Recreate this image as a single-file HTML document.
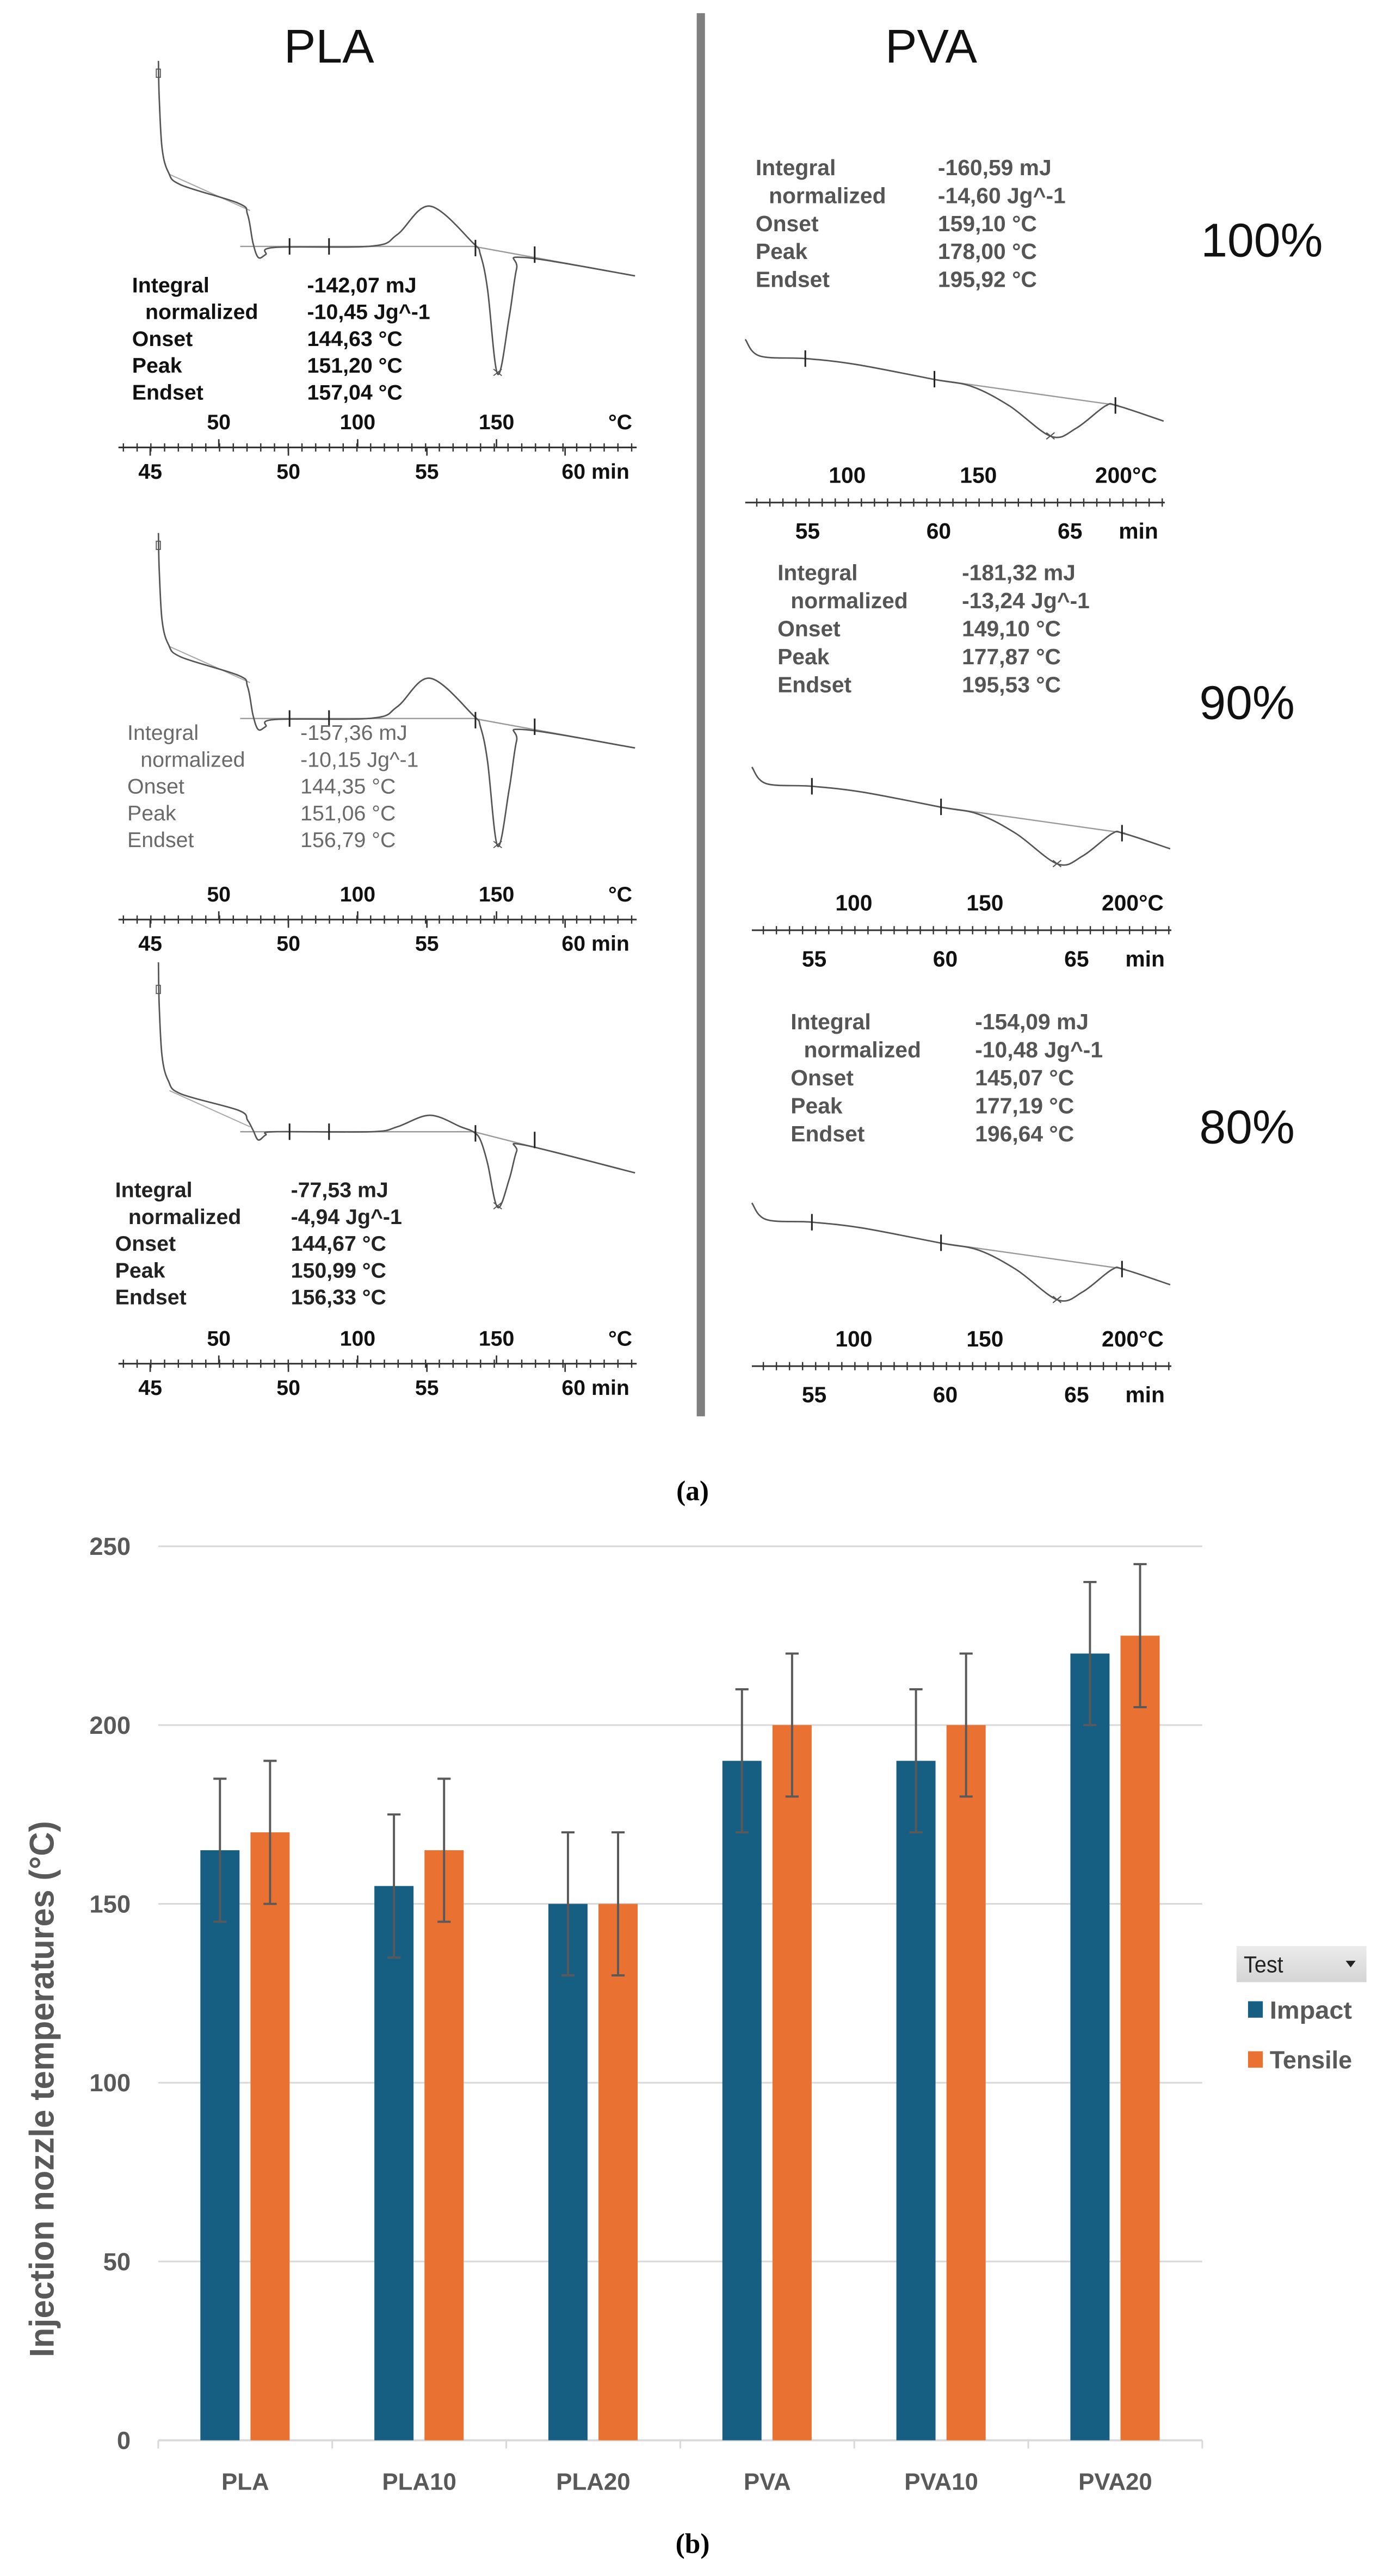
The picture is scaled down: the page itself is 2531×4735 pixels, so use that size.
<!DOCTYPE html>
<html><head><meta charset="utf-8">
<style>
html,body{margin:0;padding:0;background:#fff;}
svg{display:block;}
</style></head>
<body>
<svg id="fig" xmlns="http://www.w3.org/2000/svg" width="2531" height="4735" viewBox="0 0 837 1566" preserveAspectRatio="none">
  <rect x="0" y="0" width="837" height="1566" fill="#ffffff"/>
  <text x="200" y="38" font-family="Liberation Sans, sans-serif" font-size="29" text-anchor="middle" fill="#111">PLA</text>
  <text x="566" y="38" font-family="Liberation Sans, sans-serif" font-size="29" text-anchor="middle" fill="#111">PVA</text>
  <rect x="423.5" y="8" width="5" height="853" fill="#7f7f7f"/>
  <text x="767" y="156" font-family="Liberation Sans, sans-serif" font-size="29" text-anchor="middle" fill="#111">100%</text>
  <text x="758" y="437" font-family="Liberation Sans, sans-serif" font-size="29" text-anchor="middle" fill="#111">90%</text>
  <text x="758" y="695" font-family="Liberation Sans, sans-serif" font-size="29" text-anchor="middle" fill="#111">80%</text>
  <text x="421" y="912" font-family="Liberation Serif, serif" font-size="17" font-weight="bold" text-anchor="middle" fill="#000">(a)</text>
  <text x="421" y="1552" font-family="Liberation Serif, serif" font-size="17" font-weight="bold" text-anchor="middle" fill="#000">(b)</text>
  <g id="dsc"></g>
  <g id="bars"></g>
</svg>
<script>
// ---------- Bar chart data ----------
const categories = ["PLA","PLA10","PLA20","PVA","PVA10","PVA20"];
const impactValues = [165,155,150,190,190,220];
const tensileValues = [170,165,150,200,200,225];
const impactErrors = [20,20,20,20,20,20];
const tensileErrors = [20,20,20,20,20,20];
const yTicks = [0,50,100,150,200,250];
const seriesNames = ["Impact","Tensile"];

// ---------- DSC annotation data ----------
const plaLabels = ["Integral","normalized","Onset","Peak","Endset"];
const labelIndent = [0,8,0,0,0];
const plaValues100 = ["-142,07 mJ","-10,45 Jg^-1","144,63 °C","151,20 °C","157,04 °C"];
const plaValues90 = ["-157,36 mJ","-10,15 Jg^-1","144,35 °C","151,06 °C","156,79 °C"];
const plaValues80 = ["-77,53 mJ","-4,94 Jg^-1","144,67 °C","150,99 °C","156,33 °C"];
const pvaValues100 = ["-160,59 mJ","-14,60 Jg^-1","159,10 °C","178,00 °C","195,92 °C"];
const pvaValues90 = ["-181,32 mJ","-13,24 Jg^-1","149,10 °C","177,87 °C","195,53 °C"];
const pvaValues80 = ["-154,09 mJ","-10,48 Jg^-1","145,07 °C","177,19 °C","196,64 °C"];

const NS = "http://www.w3.org/2000/svg";
function mk(tag, attrs, parent){
  const e = document.createElementNS(NS, tag);
  for (const k in attrs) e.setAttribute(k, attrs[k]);
  parent.appendChild(e);
  return e;
}
const dsc = document.getElementById('dsc');
const bars = document.getElementById('bars');

// ---------- DSC curves (traced shapes) ----------
const plaCurveA = [[96.3,37],[96.8,60],[98.5,90],[102.3,104.6],[110,112.4],[145,123.6],[150.5,130.5],[153.8,147.8],[157,156.5],[161.5,154.7],[167,150.4],[226,149.6],[241.5,142.6],[261.3,125.3],[287.6,147.8],[292,154.7],[296.3,175.5],[302.5,227.4],[309.5,192.8],[314,163.4],[318.3,156.5],[386,167.7]];
const plaCurveC = [[96.3,28],[96.8,55],[98.5,85],[102.3,100],[110,108],[145,118],[150.5,124],[153.8,130],[157,136],[161.5,133],[167,131],[226,131],[241.5,128],[261.3,121],[280,128],[287.6,131],[292,136],[296.3,150],[302.5,177],[309.5,160],[314,143],[318.3,139],[386,156]];
const pvaCurve = [[453,206.3],[461.8,216.4],[489.7,218],[520,221.5],[568,230.7],[590.9,235],[613.7,246.8],[639,265.3],[654.2,260.3],[671.9,246.8],[679.5,246.8],[707.3,256]];

function pathD(pts, dx, dy){
  const P = pts.map(p=>[p[0]+dx, p[1]+dy]);
  let d = "M" + P[0][0].toFixed(1) + " " + P[0][1].toFixed(1);
  for (let i=0;i<P.length-1;i++){
    const p0 = P[i-1]||P[i], p1 = P[i], p2 = P[i+1], p3 = P[i+2]||P[i+1];
    const c1 = [p1[0]+(p2[0]-p0[0])/6, p1[1]+(p2[1]-p0[1])/6];
    const c2 = [p2[0]-(p3[0]-p1[0])/6, p2[1]-(p3[1]-p1[1])/6];
    d += ` C${c1[0].toFixed(1)} ${c1[1].toFixed(1)} ${c2[0].toFixed(1)} ${c2[1].toFixed(1)} ${p2[0].toFixed(1)} ${p2[1].toFixed(1)}`;
  }
  return d;
}
function txt(parent, x, y, s, size, color, weight, anchor){
  const t = mk('text', {x:x, y:y, 'font-family':'Liberation Sans, sans-serif', 'font-size':size, fill:color, 'font-weight':weight||'normal', 'text-anchor':anchor||'start'}, parent);
  t.textContent = s;
  return t;
}

function plaPanel(name, dy, pts, tx, ty, vx, vals, color, weight, baseY, baseY2){
  const g = mk('g', {}, dsc);
  
  
  mk('path', {d:`M146 ${baseY+dy} L288 ${baseY+dy} L386 ${baseY2+dy}`, stroke:'#9a9a9a', 'stroke-width':0.8, fill:'none'}, g);
  mk('path', {d:`M103 ${106+dy} L152 ${128+dy}`, stroke:'#aaa', 'stroke-width':0.7, fill:'none'}, g);
  const c = mk('path', {d:pathD(pts,0,dy), stroke:'#555', 'stroke-width':0.9, fill:'none'}, g);
  
  
  [[176,baseY],[200,baseY],[289,baseY+1],[325,baseY+5]].forEach(m=>{
    mk('line',{x1:m[0],y1:m[1]-5+dy,x2:m[0],y2:m[1]+5+dy,stroke:'#222','stroke-width':1},g);
  });
  mk('rect',{x:95,y:42+dy,width:2.5,height:5,fill:'none',stroke:'#555','stroke-width':0.6},g);
  let low = pts[0];
  pts.forEach(p=>{ if (p[1] > low[1]) low = p; });
  mk('path',{d:`M${low[0]-2.5} ${low[1]-3+dy} l5 4 M${low[0]+2.5} ${low[1]-3+dy} l-5 4`,stroke:'#555','stroke-width':0.6},g);
  for (let i=0;i<5;i++){
    txt(g, tx+labelIndent[i], ty+i*16.3+4.8+dy, plaLabels[i], 13, color, weight);
    txt(g, vx, ty+i*16.3+4.8+dy, vals[i], 13, color, weight);
  }
  const ay = 272+dy;
  mk('line',{x1:72,y1:ay,x2:387,y2:ay,stroke:'#333','stroke-width':1},g);
  for (let x=75; x<386; x+=8.35){
    mk('line',{x1:x,y1:ay-2.5,x2:x,y2:ay+2.5,stroke:'#333','stroke-width':0.8},g);
  }
  [133,217.4,301.8].forEach(x=>mk('line',{x1:x,y1:ay-5,x2:x,y2:ay,stroke:'#333','stroke-width':0.9},g));
  [91.3,175.3,259.5,343.5].forEach(x=>mk('line',{x1:x,y1:ay,x2:x,y2:ay+5,stroke:'#333','stroke-width':0.9},g));
  [["50",133],["100",217.4],["150",301.8],["°C",377]].forEach(a=>txt(g,a[1],ay-11,a[0],13,'#111','bold','middle'));
  [["45",91.3],["50",175.3],["55",259.5],["60  min",362]].forEach(a=>txt(g,a[1],ay+19,a[0],13,'#111','bold','middle'));
}
plaPanel('pla-100-thermogram', 0, plaCurveA, 80.3, 172.9, 186.7, plaValues100, '#111', 'bold', 149.8, 167.7);
plaPanel('pla-90-thermogram', 287, plaCurveA, 77.4, 158, 182.6, plaValues90, '#6a6a6a', 'normal', 149.8, 167.7);
plaPanel('pla-80-thermogram', 557, plaCurveC, 70, 166, 176.8, plaValues80, '#222', 'bold', 131, 156);

function pvaPanel(name, dx, dy, tx, ty, vx, vals){
  const g = mk('g', {}, dsc);
  
  
  mk('path',{d:`M${568+dx} ${230.7+dy} L${680+dx} ${246.5+dy}`,stroke:'#9a9a9a','stroke-width':0.8,fill:'none'},g);
  const c = mk('path',{d:pathD(pvaCurve,dx,dy),stroke:'#555','stroke-width':0.9,fill:'none'},g);
  
  
  [[489.5,218],[568,230.5],[678,246.5]].forEach(m=>{
    mk('line',{x1:m[0]+dx,y1:m[1]-5+dy,x2:m[0]+dx,y2:m[1]+5+dy,stroke:'#222','stroke-width':1},g);
  });
  mk('path',{d:`M${636+dx} ${263+dy} l5 4 M${641+dx} ${263+dy} l-5 4`,stroke:'#555','stroke-width':0.7},g);
  for (let i=0;i<5;i++){
    txt(g, tx+labelIndent[i], ty+i*17+4.8, plaLabels[i], 13.5, '#555', 'bold');
    txt(g, vx, ty+i*17+4.8, vals[i], 13.5, '#555', 'bold');
  }
  const ay = 305.5+dy;
  mk('line',{x1:453+dx,y1:ay,x2:708+dx,y2:ay,stroke:'#333','stroke-width':1},g);
  for (let x=460; x<707; x+=7.95){
    mk('line',{x1:x+dx,y1:ay-2.5,x2:x+dx,y2:ay+2.5,stroke:'#333','stroke-width':0.8},g);
  }
  [["100",515],["150",594.7],["200°C",684.5]].forEach(a=>txt(g,a[1]+dx,ay-12,a[0],13.5,'#111','bold','middle'));
  [["55",490.9],["60",570.6],["65",650.4],["min",692]].forEach(a=>txt(g,a[1]+dx,ay+22,a[0],13.5,'#111','bold','middle'));
}
pvaPanel('pva-100-thermogram', 0, 0, 459.3, 101.7, 570.1, pvaValues100);
pvaPanel('pva-90-thermogram', 4, 260, 472.6, 348, 584.7, pvaValues90);
pvaPanel('pva-80-thermogram', 4, 525, 480.6, 621, 592.7, pvaValues80);

// ---------- Bar chart ----------
const X0 = 96.2, X1 = 730.8, Y0 = 1483.5, PER = 108.7/50;
const bandW = (X1 - X0) / categories.length;
function yScale(v){ return Y0 - v*PER; }
function xBand(i){ return X0 + i*bandW; }
const font = 'Liberation Sans, sans-serif';
const axisColor = '#595959';

yTicks.forEach(v=>{
  const y = yScale(v);
  const gl = mk('line',{x1:X0,y1:y,x2:X1,y2:y,stroke:'#d9d9d9','stroke-width':v===0?1.3:1},bars);
  
  
  const t = txt(bars, 79.4, y+5.3, String(v), 15, axisColor, 'bold', 'end');
  
  
});
for (let i=0;i<=categories.length;i++){
  mk('line',{x1:xBand(i),y1:Y0,x2:xBand(i),y2:Y0+5,stroke:'#d9d9d9','stroke-width':1},bars);
}
const barColors = ['#175f82','#e97132'];
categories.forEach((c,i)=>{
  const bx = xBand(i);
  const vals = [impactValues[i], tensileValues[i]];
  const errs = [impactErrors[i], tensileErrors[i]];
  const offs = [0.242, 0.53];
  for (let s=0;s<2;s++){
    const x = bx + offs[s]*bandW, w = 0.225*bandW;
    const r = mk('rect',{x:x,y:yScale(vals[s]),width:w,height:Y0-yScale(vals[s]),fill:barColors[s]},bars);
    
    
    const cx = x + w/2, yt = yScale(vals[s]+errs[s]), yb = yScale(vals[s]-errs[s]);
    const eb = mk('path',{d:`M${cx} ${yt} L${cx} ${yb} M${cx-4} ${yt} L${cx+4} ${yt} M${cx-4} ${yb} L${cx+4} ${yb}`,stroke:'#595959','stroke-width':1.3,fill:'none'},bars);
    
    
  }
  const lt = txt(bars, bx + bandW/2, 1513.5, c, 14.5, axisColor, 'bold', 'middle');
  
  
});
const yt = mk('text',{x:0,y:0,'font-family':font,'font-size':21,'font-weight':'bold',fill:axisColor,'text-anchor':'middle',textLength:326,lengthAdjust:'spacingAndGlyphs',transform:'translate(32.5 1270) rotate(-90)'},bars);


yt.textContent = 'Injection nozzle temperatures (°C)';

const lg = mk('g',{},bars);


const defs = mk('defs',{},lg);
const grad = mk('linearGradient',{id:'lgGrad',x1:0,y1:0,x2:0,y2:1},defs);
mk('stop',{offset:'0','stop-color':'#ececec'},grad);
mk('stop',{offset:'1','stop-color':'#d4d4d4'},grad);
const fb = mk('rect',{x:751.6,y:1183,width:79,height:22,fill:'url(#lgGrad)'},lg);


const ft = mk('text',{x:756,y:1199,'font-family':font,'font-size':14,fill:'#222',textLength:24,lengthAdjust:'spacingAndGlyphs'},lg);
ft.textContent = 'Test';
mk('path',{d:'M818 1192 L824 1192 L821 1196 Z',fill:'#222'},lg);
seriesNames.forEach((n,i)=>{
  const y = [1221.6,1252][i];
  const sw = mk('rect',{x:758.6,y:y-5,width:9,height:10,fill:barColors[i]},lg);
  
  
  const t = mk('text',{x:771.8,y:y+5.5,'font-family':font,'font-size':15,'font-weight':'bold',fill:axisColor,textLength:50,lengthAdjust:'spacingAndGlyphs'},lg);
  
  
  t.textContent = n;
});
</script>
</body></html>
